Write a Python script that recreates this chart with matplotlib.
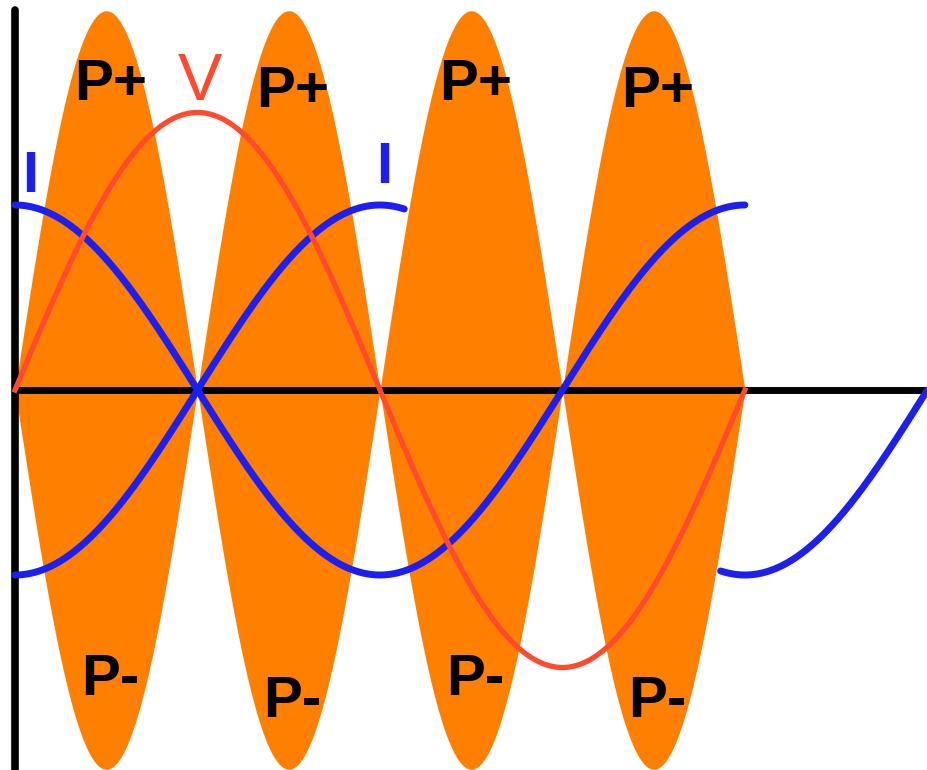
import numpy as np
import matplotlib
matplotlib.use("Agg")
import matplotlib.pyplot as plt

# wave parameters (phase in degrees, heights in units of I peak)
v_amp = 1.5          # voltage peak
i_amp = 1.0          # current peak
p_amp = 2.05         # power lobe height (above and below the axis)
v_span = (0, 360)    # red V wave
i_span = (0, 360)    # blue I wave (cos)
i2_spans = [(0, 192), (348, 450)]   # second blue I wave (-cos), drawn in two pieces
lobe_starts = [0, 90, 180, 270]     # orange power lobes, 90 deg wide

# labels
p_pos_labels = ["P+", "P+", "P+", "P+"]
p_neg_labels = ["P-", "P-", "P-", "P-"]

ORANGE = "#ff8000"
RED = "#ff4a2e"
BLUE = "#1c1ff0"

fig = plt.figure(figsize=(9.28, 7.70), dpi=100)
ax = fig.add_axes([0, 0, 1, 1])
ax.set_xlim(-7.4, 450.3)
ax.set_ylim(-2.054, 2.108)
ax.axis("off")

# power lobes
for s in lobe_starts:
    t = np.linspace(s, s + 90, 200)
    h = p_amp * np.abs(np.sin(np.radians(2 * t)))
    ax.fill_between(t, -h, h, color=ORANGE, lw=0, zorder=1)

# axes
ax.plot([0, 460], [0, 0], color="black", lw=5, solid_capstyle="butt", zorder=2)
ax.plot([0, 0], [-2.2, 2.054], color="black", lw=5.5, solid_capstyle="round", zorder=2)

# current waves
t = np.linspace(*i_span, 400)
ax.plot(t, i_amp * np.cos(np.radians(t)), color=BLUE, lw=5, solid_capstyle="round", zorder=3)
for a, b in i2_spans:
    t = np.linspace(a, b, 200)
    ax.plot(t, -i_amp * np.cos(np.radians(t)), color=BLUE, lw=5, solid_capstyle="round", zorder=3)

# voltage wave
t = np.linspace(*v_span, 400)
ax.plot(t, v_amp * np.sin(np.radians(t)), color=RED, lw=3.8, zorder=4)

txt = dict(family=["Liberation Sans", "DejaVu Sans"], fontweight="bold", fontsize=42,
           ha="center", va="baseline", zorder=5)
for k, lab in enumerate(p_pos_labels):
    ax.text(47 + 90 * k, 1.57 - 0.04 * (k % 2), lab, color="black", **txt)
for k, lab in enumerate(p_neg_labels):
    ax.text(47 + 90 * k, -1.65 - 0.12 * (k % 2), lab, color="black", **txt)

ax.text(91, 1.57, "V", color=RED, family=["Liberation Sans", "DejaVu Sans"],
        fontsize=48, ha="center", va="baseline", zorder=5)
ax.text(7.4, 1.07, "I", color=BLUE, **txt)
ax.text(182, 1.12, "I", color=BLUE, **txt)

fig.savefig("out.png", dpi=100, facecolor="white")
